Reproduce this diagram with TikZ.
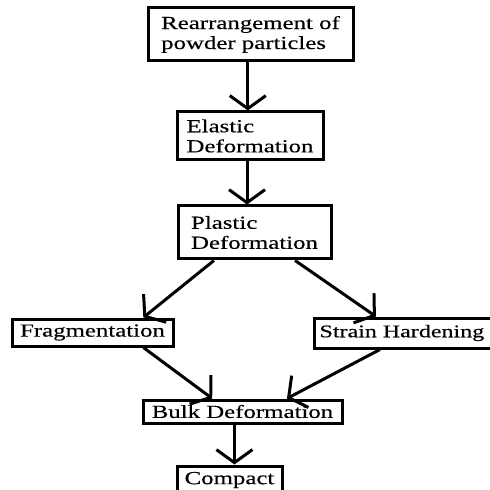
\documentclass[tikz,border=0pt]{standalone}
\usepackage{fontspec}
\setmainfont[FakeStretch=1.35, FakeBold=0.4]{Liberation Serif}
\usetikzlibrary{calc, arrows.meta}

\tikzset{
	stage/.style = {draw, line width=1.5pt, inner sep=0pt, align=left,
		font=\fontsize{9.2pt}{10pt}\selectfont},
	flow/.style = {line width=1.5pt, -{Straight Barb[length=6.5pt, width=18pt]}}
}

\begin{document}
\begin{tikzpicture}[x=0.5pt, y=-0.5pt]
			\useasboundingbox (0,0) rectangle (490,490);
			\clip (0,0) rectangle (490,490);
			
			\node[stage, minimum width=102.5pt, minimum height=26.5pt] (rearr) at (250.5,34.5) {Rearrangement of\\powder particles};
			\node[stage, minimum width=73pt, minimum height=24pt] (elastic) at (250,136) {Elastic\\Deformation};
			\node[stage, minimum width=76.5pt, minimum height=26.5pt] (plastic) at (254.5,232.5) {Plastic\\Deformation};
			\node[stage, minimum width=80.5pt, minimum height=13.5pt] (frag) at (92.5,332.5) {Fragmentation};
			\node[stage, anchor=west, inner xsep=2.5pt, text width=95pt, minimum height=15pt,
				font=\fontsize{8.9pt}{10pt}\selectfont] (strain) at (313,333) {Strain Hardening};
			\node[stage, minimum width=99.5pt, minimum height=11.5pt] (bulk) at (242.5,411.5) {Bulk Deformation};
			\node[stage, minimum width=52.5pt, minimum height=14pt] (compact) at (229.5,480) {Compact};
			
			\coordinate (r1) at ($(rearr.south west)!0.487!(rearr.south east)$);
			\draw[flow] (r1) -- (r1 |- elastic.north);
			\draw[flow] ($(elastic.south west)!0.48!(elastic.south east)$) coordinate (e1) -- (e1 |- plastic.north);
			\draw[flow] ($(plastic.south west)!0.24!(plastic.south east)$) -- ($(frag.north west)!0.81!(frag.north east)$);
			\draw[flow] ($(plastic.south west)!0.76!(plastic.south east)$) -- ($(strain.north west)!0.31!(strain.north east)$);
			\draw[flow] ($(frag.south west)!0.81!(frag.south east)$) -- ($(bulk.north west)!0.35!(bulk.north east)$);
			\draw[flow] ($(strain.south west)!0.33!(strain.south east)$) -- ($(bulk.north west)!0.72!(bulk.north east)$);
			\draw[flow] ($(bulk.south west)!0.46!(bulk.south east)$) coordinate (b1) -- (b1 |- compact.north);
		\end{tikzpicture}
\end{document}
